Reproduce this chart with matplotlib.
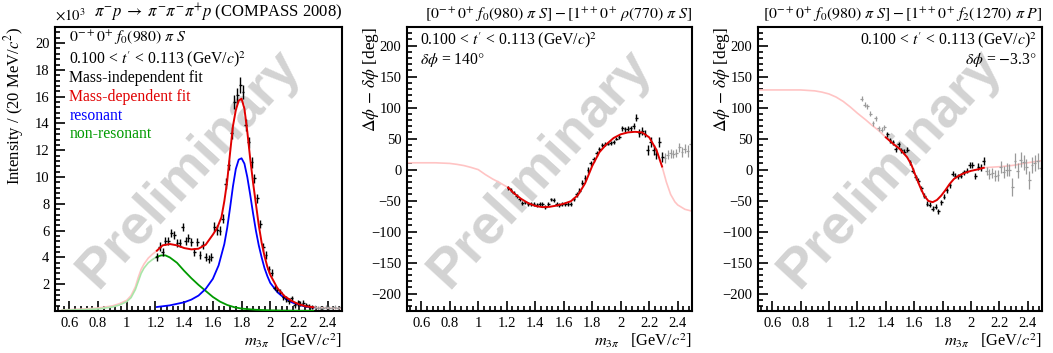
import matplotlib
matplotlib.use("Agg")
import matplotlib.pyplot as plt
from matplotlib.ticker import MultipleLocator, FuncFormatter
import numpy as np

plt.rcParams['font.family'] = ['Liberation Serif', 'DejaVu Serif']
plt.rcParams['mathtext.fontset'] = 'stix'
plt.rcParams['axes.unicode_minus'] = True

# ---------- panel 1 : intensity (x10^3) ----------
m_black = np.round(np.arange(1.21, 2.30, 0.02), 2)
int_black = [4.0, 4.8, 4.4, 5.2, 5.25, 5.85, 5.65, 5.05, 5.05, 6.3,
             5.25, 5.45, 5.15, 4.4, 5.15, 4.2, 4.95, 4.0, 3.85, 4.0,
             6.3, 6.05, 6.0, 6.9, 9.5, 10.9, 13.3, 15.6, 16.1, 16.85,
             16.35, 13.9, 12.6, 11.1, 9.9, 8.4, 6.5, 4.75, 4.15, 3.1,
             2.85, 1.75, 1.6, 1.45, 1.05, 0.9, 0.75, 0.95, 0.45, 0.6,
             0.55, 0.6, 0.45, 0.4, 0.3]
int_err = [0.3, 0.35, 0.3, 0.3, 0.3, 0.3, 0.3, 0.3, 0.3, 0.3,
           0.3, 0.3, 0.3, 0.3, 0.3, 0.3, 0.3, 0.3, 0.3, 0.3,
           0.35, 0.35, 0.35, 0.35, 0.4, 0.4, 0.45, 0.5, 0.55, 0.6,
           0.5, 0.45, 0.4, 0.4, 0.35, 0.35, 0.3, 0.3, 0.3, 0.25,
           0.25, 0.2, 0.2, 0.2, 0.2, 0.2, 0.2, 0.2, 0.2, 0.2,
           0.2, 0.2, 0.15, 0.15, 0.15]
m_gray1 = np.round(np.arange(2.31, 2.50, 0.02), 2)
int_gray = [0.3, 0.25, 0.2, 0.25, 0.3, 0.2, 0.25, 0.3, 0.2, 0.3]
int_gray_err = [0.15] * 10

red1_m = [1.21, 1.25, 1.30, 1.35, 1.40, 1.45, 1.50, 1.55, 1.58, 1.60, 1.63, 1.66,
          1.68, 1.70, 1.72, 1.74, 1.76, 1.78, 1.80, 1.82, 1.84, 1.86, 1.88, 1.90,
          1.92, 1.94, 1.96, 1.98, 2.00, 2.05, 2.10, 2.15, 2.20, 2.25, 2.30]
red1_v = [4.5, 4.9, 5.0, 4.9, 4.7, 4.6, 4.65, 4.95, 5.4, 5.7, 6.2, 7.0,
          8.2, 9.7, 11.8, 13.8, 15.0, 15.7, 15.85, 15.1, 13.4, 11.4, 9.6, 8.0,
          6.4, 5.1, 4.1, 3.3, 2.7, 1.7, 1.1, 0.75, 0.5, 0.35, 0.28]
pinkL1_m = [0.55, 0.6, 0.7, 0.8, 0.9, 0.95, 1.0, 1.03, 1.06, 1.08, 1.10, 1.12, 1.15, 1.18, 1.21]
pinkL1_v = [0.08, 0.1, 0.15, 0.22, 0.38, 0.55, 0.8, 1.15, 1.8, 2.5, 3.1, 3.5, 3.95, 4.25, 4.5]
pinkR1_m = [2.30, 2.35, 2.40, 2.45, 2.50]
pinkR1_v = [0.28, 0.24, 0.22, 0.2, 0.19]
blue_m = [1.21, 1.30, 1.40, 1.45, 1.50, 1.55, 1.60, 1.64, 1.68, 1.70, 1.72, 1.74, 1.76,
          1.78, 1.80, 1.82, 1.84, 1.86, 1.88, 1.90, 1.92, 1.94, 1.96, 1.98, 2.00,
          2.05, 2.10, 2.15, 2.20, 2.25, 2.30]
blue_v = [0.3, 0.42, 0.65, 0.85, 1.15, 1.65, 2.4, 3.4, 5.0, 6.2, 7.7, 9.3, 10.6,
          11.3, 11.4, 11.0, 10.0, 8.7, 7.3, 6.0, 4.9, 4.0, 3.2, 2.6, 2.1,
          1.4, 0.95, 0.65, 0.45, 0.33, 0.25]
green_m = [1.21, 1.24, 1.27, 1.30, 1.35, 1.40, 1.45, 1.50, 1.55, 1.60, 1.65, 1.70,
           1.75, 1.80, 1.90, 2.00, 2.10, 2.20, 2.30]
green_v = [4.05, 4.15, 4.15, 4.0, 3.6, 3.0, 2.45, 1.95, 1.5, 1.05, 0.7, 0.45,
           0.28, 0.18, 0.09, 0.05, 0.03, 0.02, 0.02]
greenL_m = [0.55, 0.6, 0.7, 0.8, 0.9, 0.95, 1.0, 1.03, 1.06, 1.08, 1.10, 1.12, 1.15, 1.18, 1.21]
greenL_v = [0.05, 0.07, 0.1, 0.15, 0.3, 0.45, 0.7, 1.0, 1.6, 2.2, 2.8, 3.2, 3.6, 3.85, 4.05]

# ---------- panel 2 : phase vs rho(770) pi S ----------
ph2_black = [-30, -33, -37, -43, -48, -54, -53, -55, -55, -56,
             -57, -55, -56, -60, -56, -48, -49, -55, -57, -55,
             -56, -55, -55, -47, -40, -34, -21, -13, 0, 10,
             17, 26, 33, 40, 41, 42, 43, 44, 50, 53,
             67, 65, 66, 67, 70, 84, 59, 62, 58, 31,
             44, 31, 25, 44, 21]
ph2_err = [3, 3, 3, 3, 3, 3, 3, 3, 3, 3,
           3, 3, 3, 3, 3, 3, 3, 3, 3, 3,
           3, 3, 3, 3, 4, 4, 4, 5, 5, 4,
           4, 4, 3, 3, 3, 3, 3, 3, 3, 3,
           4, 4, 4, 4, 5, 6, 6, 6, 6, 8,
           8, 8, 8, 8, 8]
ph2_gray = [18, 24, 26, 25, 27, 36, 29, 34, 30, 41]
ph2_gray_err = [8, 7, 7, 6, 6, 7, 8, 8, 9, 9]
red2_m = [1.21, 1.25, 1.30, 1.35, 1.40, 1.45, 1.50, 1.55, 1.60, 1.65, 1.70, 1.75,
          1.80, 1.85, 1.90, 1.95, 2.00, 2.05, 2.10, 2.15, 2.20, 2.25, 2.29]
red2_v = [-29, -38, -47, -54, -58.5, -60.5, -60, -58, -55, -51, -41, -22,
          6, 28, 41, 51, 57, 60, 61, 60, 52, 32, 5]
pinkL2_m = [0.5, 0.6, 0.7, 0.8, 0.85, 0.9, 0.95, 1.0, 1.05, 1.1, 1.15, 1.21]
pinkL2_v = [11, 11, 11, 10, 8.5, 6.5, 3.5, 0, -8, -15, -21, -29]
pinkR2_m = [2.29, 2.32, 2.35, 2.38, 2.40, 2.45, 2.50]
pinkR2_v = [5, -20, -40, -52, -57, -64, -67]

# ---------- panel 3 : phase vs f2(1270) pi P ----------
m3_grayL = np.round(np.arange(1.23, 1.40, 0.02), 2)
ph3_grayL = [114, 105, 102, 90, 75, 83, 67, 64, 68]
ph3_grayL_err = [4, 4, 4, 4, 4, 4, 4, 4, 4]
m3_black = np.round(np.arange(1.41, 2.10, 0.02), 2)
ph3_black = [57, 47, 44, 33, 41, 31, 29, 32, 12, -2,
             -12, -18, -30, -42, -55, -57, -63, -60, -67, -53,
             -44, -33, -25, -7, -10, -11, -10, -4, -2, 8,
             8, -10, 5, 3, 14]
ph3_err = [4, 4, 4, 4, 4, 4, 4, 4, 4, 4,
           4, 4, 4, 4, 4, 4, 4, 4, 4, 4,
           4, 4, 4, 4, 4, 4, 4, 4, 4, 5,
           5, 5, 6, 6, 7]
m3_grayR = np.round(np.arange(2.11, 2.50, 0.02), 2)
ph3_grayR = [-2, -7, -6, -10, -9, 4, -4, 0, -1, -28,
             14, -2, 16, 12, 5, -17, 8, 10, 14, 2]
ph3_grayR_err = [7, 8, 8, 9, 9, 10, 10, 10, 10, 14,
                 12, 12, 12, 12, 12, 14, 13, 13, 13, 14]
red3_m = [1.40, 1.45, 1.50, 1.55, 1.58, 1.61, 1.64, 1.67, 1.70, 1.73, 1.76,
          1.79, 1.82, 1.85, 1.88, 1.92, 1.96, 2.00, 2.04, 2.09]
red3_v = [52, 42, 33, 20, 8, -10, -27, -42, -50.5, -52.5, -49,
          -42, -33, -23, -15, -9, -5, -2, 0, 3]
pinkL3_m = [0.5, 0.6, 0.7, 0.8, 0.9, 0.95, 1.0, 1.05, 1.1, 1.15, 1.2, 1.26, 1.3, 1.35, 1.40]
pinkL3_v = [128.5, 128.5, 128.5, 128.5, 127, 125, 122, 117, 110, 101, 91, 80, 72, 63, 52]
pinkR3_m = [2.09, 2.15, 2.22, 2.30, 2.37, 2.44, 2.50]
pinkR3_v = [3, 4, 5, 7, 10, 12.5, 14.5]

RED = '#e00000'
PINK = '#ffc4c4'
BLUE = '#0000ff'
GREEN = '#009a00'
LGREEN = '#a8e6a8'
GRAY = '#9a9a9a'
WM = '#d3d3d3'
W, H = 1053, 353
TXT = 11.3

fig = plt.figure(figsize=(W / 100, H / 100), dpi=100)
boxes = [(55, 287), (407, 285), (758, 284)]
axes = [fig.add_axes([l / W, (H - 311) / H, w / W, 284 / H]) for l, w in boxes]

tfmt = FuncFormatter(lambda v, p: ('%g' % round(v, 2)).replace('-', '\u2212'))
tcut = r"0.100 < $t'$ < 0.113 (GeV/$c$)$^2$"
for ax in axes:
    ax.set_xlim(0.5, 2.5)
    ax.xaxis.set_minor_locator(MultipleLocator(0.04))
    ax.set_xticks([v / 10 for v in range(6, 25, 2)])
    ax.xaxis.set_major_formatter(tfmt)
    ax.tick_params(which='both', direction='in', top=False, right=False,
                   labelsize=10.5, width=1.2, pad=4)
    ax.tick_params(which='major', length=7)
    ax.tick_params(which='minor', length=3.5)
    for s in ax.spines.values():
        s.set_linewidth(1.5)
    ax.set_xlabel(r'$m_{3\pi}$   [GeV/$c^2$]', fontsize=11.8, loc='right')
    ax.xaxis.set_label_coords(1.0, -0.072)
    ax.text(0.467, 0.5, 'Preliminary', transform=ax.transAxes, rotation=47.5,
            ha='center', va='center', fontsize=40, color=WM, weight='bold',
            family='Liberation Sans', zorder=0)

# panel 1
ax = axes[0]
ax.set_ylim(0, 21.2)
ax.set_yticks(range(2, 21, 2))
ax.yaxis.set_minor_locator(MultipleLocator(0.4))
ax.set_ylabel(r'Intensity / (20 MeV/$c^2$)', fontsize=12, loc='top')
ax.yaxis.set_label_coords(-0.1, 1.0)
ax.plot(pinkL1_m, pinkL1_v, color=PINK, lw=1.2, zorder=2)
ax.plot(pinkR1_m, pinkR1_v, color=PINK, lw=1.2, zorder=2)
ax.plot(greenL_m, greenL_v, color=LGREEN, lw=1.2, zorder=2)
ax.plot(green_m, green_v, color=GREEN, lw=1.3, zorder=3)
ax.plot(blue_m, blue_v, color=BLUE, lw=1.3, zorder=3)
ax.errorbar(m_gray1, int_gray, yerr=int_gray_err, xerr=0.01, fmt='none',
            ecolor=GRAY, elinewidth=0.9, zorder=2)
ax.errorbar(m_black, int_black, yerr=int_err, xerr=0.01, fmt='none',
            ecolor='k', elinewidth=1.0, zorder=4)
ax.plot(red1_m, red1_v, color=RED, lw=1.4, zorder=5)
ax.text(0.0, 1.012, r'$\times10^{3}$', transform=ax.transAxes, fontsize=10.5, va='bottom')
ax.text(1.0, 1.012, r'$\pi^{-}p\;\rightarrow\;\pi^{-}\pi^{-}\pi^{+}p$ (COMPASS 2008)',
        transform=ax.transAxes, fontsize=12, ha='right', va='bottom')
lines = [(r'$0^{-+}0^{+}\ f_0(980)\ \pi\ S$', 'k', 0.961),
         (tcut, 'k', 0.886),
         ('Mass-independent fit', 'k', 0.82),
         ('Mass-dependent fit', RED, 0.752),
         ('resonant', BLUE, 0.688),
         ('non-resonant', GREEN, 0.622)]
for s, c, y in lines:
    ax.text(0.05, y, s, color=c, transform=ax.transAxes, fontsize=TXT, va='center')

# panels 2 and 3
for ax in axes[1:]:
    ax.set_ylim(-228, 230)
    ax.yaxis.set_major_locator(MultipleLocator(50))
    ax.yaxis.set_minor_locator(MultipleLocator(10))
    ax.yaxis.set_major_formatter(tfmt)
    ax.set_ylabel(r'$\Delta\phi\,-\,\delta\phi$ [deg]', fontsize=12.5, loc='top')
    ax.yaxis.set_label_coords(-0.09, 1.0)

ax = axes[1]
ax.plot(pinkL2_m, pinkL2_v, color=PINK, lw=1.2, zorder=2)
ax.plot(pinkR2_m, pinkR2_v, color=PINK, lw=1.2, zorder=2)
ax.errorbar(m_gray1, ph2_gray, yerr=ph2_gray_err, xerr=0.01, fmt='none',
            ecolor=GRAY, elinewidth=0.9, zorder=2)
ax.errorbar(m_black, ph2_black, yerr=ph2_err, xerr=0.01, fmt='none',
            ecolor='k', elinewidth=1.0, zorder=4)
ax.plot(red2_m, red2_v, color=RED, lw=1.4, zorder=5)
ax.text(1.0, 1.012, r'$[0^{-+}0^{+}\ f_0(980)\ \pi\ S] - [1^{++}0^{+}\ \rho(770)\ \pi\ S]$',
        transform=ax.transAxes, fontsize=11.4, ha='right', va='bottom')
ax.text(0.046, 0.954, tcut, transform=ax.transAxes, fontsize=TXT, va='center')
ax.text(0.046, 0.884, r'$\delta\phi$ = 140$\degree$',
        transform=ax.transAxes, fontsize=TXT, va='center')

ax = axes[2]
ax.plot(pinkL3_m, pinkL3_v, color=PINK, lw=1.2, zorder=2)
ax.plot(pinkR3_m, pinkR3_v, color=PINK, lw=1.2, zorder=2)
ax.errorbar(m3_grayL, ph3_grayL, yerr=ph3_grayL_err, xerr=0.01, fmt='none',
            ecolor=GRAY, elinewidth=0.9, zorder=2)
ax.errorbar(m3_grayR, ph3_grayR, yerr=ph3_grayR_err, xerr=0.01, fmt='none',
            ecolor=GRAY, elinewidth=0.9, zorder=2)
ax.errorbar(m3_black, ph3_black, yerr=ph3_err, xerr=0.01, fmt='none',
            ecolor='k', elinewidth=1.0, zorder=4)
ax.plot(red3_m, red3_v, color=RED, lw=1.4, zorder=5)
ax.text(1.0, 1.012, r'$[0^{-+}0^{+}\ f_0(980)\ \pi\ S] - [1^{++}0^{+}\ f_2(1270)\ \pi\ P]$',
        transform=ax.transAxes, fontsize=11.4, ha='right', va='bottom')
ax.text(0.982, 0.954, tcut, transform=ax.transAxes, fontsize=TXT, va='center', ha='right')
ax.text(0.982, 0.884, r'$\delta\phi$ = $-$3.3$\degree$',
        transform=ax.transAxes, fontsize=TXT, va='center', ha='right')

fig.savefig('out.png', dpi=100)
